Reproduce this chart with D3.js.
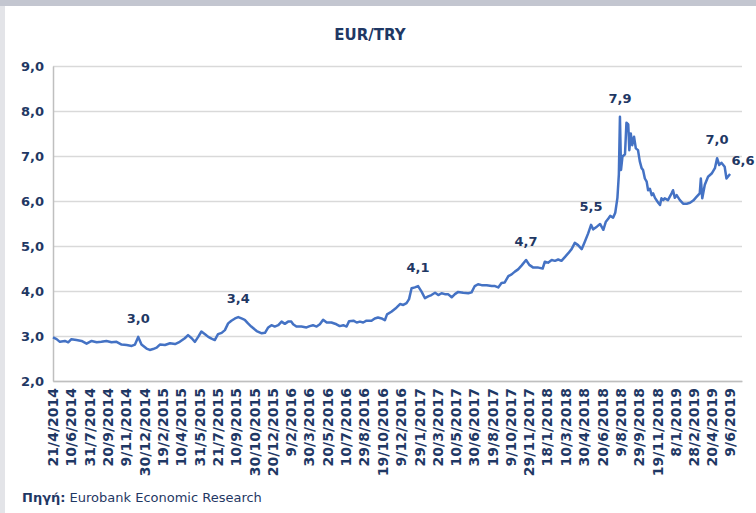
<!DOCTYPE html>
<html>
<head>
<meta charset="utf-8">
<script src="https://cdn.jsdelivr.net/npm/d3@7"></script>
<style>
  body { margin: 0; background: #fff; }
  text { font-family: 'DejaVu Sans', Verdana, sans-serif; }
</style>
</head>
<body>
<script>
// EUR/TRY series, values
var dates = ['2014-04-21','2014-05-01','2014-05-10','2014-05-24','2014-06-02','2014-06-11','2014-06-25','2014-07-09','2014-07-23','2014-08-06',
  '2014-08-20','2014-09-02','2014-09-16','2014-09-30','2014-10-14','2014-10-28','2014-11-11','2014-11-25','2014-12-04','2014-12-13',
  '2014-12-22','2015-01-05','2015-01-14','2015-01-23','2015-02-02','2015-02-11','2015-02-25','2015-03-11','2015-03-25','2015-04-07',
  '2015-04-21','2015-04-30','2015-05-10','2015-05-19','2015-05-28','2015-06-06','2015-06-16','2015-06-25','2015-07-04','2015-07-13',
  '2015-07-22','2015-08-01','2015-08-10','2015-08-19','2015-08-28','2015-09-07','2015-09-16','2015-09-25','2015-10-04','2015-10-13',
  '2015-10-22','2015-11-06','2015-11-20','2015-11-29','2015-12-08','2015-12-17','2015-12-26','2016-01-05','2016-01-14','2016-01-23',
  '2016-02-01','2016-02-10','2016-02-15','2016-02-24','2016-03-09','2016-03-23','2016-04-01','2016-04-10','2016-04-20','2016-04-29',
  '2016-05-08','2016-05-18','2016-05-31','2016-06-14','2016-06-23','2016-07-03','2016-07-12','2016-07-19','2016-07-31','2016-08-09',
  '2016-08-18','2016-08-27','2016-09-05','2016-09-19','2016-09-28','2016-10-07','2016-10-17','2016-10-26','2016-11-01','2016-11-13',
  '2016-11-27','2016-12-07','2016-12-16','2016-12-25','2017-01-01','2017-01-08','2017-01-17','2017-01-26','2017-02-05','2017-02-14',
  '2017-02-23','2017-03-04','2017-03-14','2017-03-23','2017-04-01','2017-04-10','2017-04-19','2017-04-29','2017-05-08','2017-05-17',
  '2017-05-31','2017-06-14','2017-06-23','2017-07-02','2017-07-11','2017-07-21','2017-08-04','2017-08-18','2017-08-27','2017-09-05',
  '2017-09-14','2017-09-23','2017-10-03','2017-10-12','2017-10-21','2017-10-30','2017-11-09','2017-11-21','2017-11-30','2017-12-11',
  '2017-12-25','2018-01-06','2018-01-12','2018-01-21','2018-01-31','2018-02-09','2018-02-18','2018-02-27','2018-03-09','2018-03-18',
  '2018-03-27','2018-04-05','2018-04-14','2018-04-24','2018-05-03','2018-05-12','2018-05-20','2018-05-26','2018-06-05','2018-06-14',
  '2018-06-23','2018-06-30','2018-07-07','2018-07-12','2018-07-20','2018-07-26','2018-08-01','2018-08-05','2018-08-08','2018-08-11',
  '2018-08-15','2018-08-22','2018-08-26','2018-08-31','2018-09-03','2018-09-07','2018-09-11','2018-09-16','2018-09-21','2018-09-27',
  '2018-10-02','2018-10-07','2018-10-11','2018-10-16','2018-10-21','2018-10-25','2018-10-30','2018-11-04','2018-11-08','2018-11-13',
  '2018-11-22','2018-11-27','2018-12-01','2018-12-06','2018-12-10','2018-12-19','2018-12-29','2019-01-02','2019-01-07','2019-01-12',
  '2019-01-21','2019-01-30','2019-02-09','2019-02-18','2019-02-27','2019-03-08','2019-03-17','2019-03-20','2019-03-24','2019-03-31',
  '2019-04-09','2019-04-19','2019-04-28','2019-05-04','2019-05-10','2019-05-16','2019-05-25','2019-05-30','2019-06-04','2019-06-09'];

var rates = [2.97,2.93,2.87,2.89,2.86,2.93,2.91,2.89,2.83,2.89,
  2.86,2.87,2.89,2.86,2.87,2.81,2.80,2.78,2.81,2.98,
  2.81,2.72,2.69,2.71,2.74,2.81,2.80,2.84,2.82,2.87,
  2.95,3.02,2.95,2.87,2.98,3.10,3.04,2.98,2.94,2.91,
  3.04,3.07,3.13,3.28,3.34,3.39,3.42,3.39,3.36,3.28,
  3.21,3.11,3.06,3.07,3.19,3.24,3.21,3.24,3.32,3.27,
  3.32,3.32,3.26,3.21,3.21,3.19,3.22,3.24,3.21,3.26,
  3.36,3.30,3.30,3.26,3.22,3.24,3.21,3.33,3.34,3.30,
  3.32,3.30,3.34,3.34,3.39,3.41,3.39,3.35,3.48,3.54,
  3.63,3.71,3.69,3.73,3.82,4.06,4.08,4.11,3.98,3.84,
  3.88,3.91,3.96,3.91,3.95,3.93,3.93,3.86,3.93,3.98,
  3.96,3.95,3.97,4.11,4.15,4.13,4.13,4.11,4.11,4.08,
  4.18,4.19,4.33,4.37,4.43,4.48,4.57,4.69,4.58,4.52,
  4.52,4.50,4.65,4.63,4.69,4.67,4.70,4.67,4.76,4.84,
  4.93,5.07,5.02,4.93,5.10,5.28,5.47,5.37,5.43,5.49,
  5.36,5.54,5.61,5.67,5.63,5.74,6.07,6.59,7.87,6.69,
  6.99,7.04,7.74,7.70,7.13,7.50,7.24,7.43,7.17,7.13,
  6.88,6.73,6.69,6.50,6.43,6.24,6.27,6.13,6.17,6.07,
  5.96,5.91,6.06,6.02,6.06,6.02,6.17,6.24,6.07,6.13,
  6.02,5.94,5.94,5.96,6.01,6.09,6.17,6.50,6.06,6.36,
  6.54,6.61,6.73,6.95,6.80,6.85,6.76,6.50,6.55,6.60];

var tickLabels = ['21/4/2014','10/6/2014','31/7/2014','20/9/2014','9/11/2014','30/12/2014',
  '19/2/2015','10/4/2015','31/5/2015','21/7/2015','10/9/2015','30/10/2015','20/12/2015',
  '9/2/2016','30/3/2016','20/5/2016','10/7/2016','29/8/2016','19/10/2016','9/12/2016',
  '29/1/2017','20/3/2017','10/5/2017','30/6/2017','19/8/2017','9/10/2017','29/11/2017',
  '18/1/2018','10/3/2018','30/4/2018','20/6/2018','9/8/2018','29/9/2018','19/11/2018',
  '8/1/2019','28/2/2019','20/4/2019','9/6/2019'];

var yTicks = [2, 3, 4, 5, 6, 7, 8, 9];

// labelled points
var annotDates = ['2014-12-13','2015-09-16','2017-01-26','2017-11-21','2018-05-20','2018-08-08','2019-05-04','2019-06-09'];

var parseIso = d3.timeParse('%Y-%m-%d');
var parseTick = d3.timeParse('%d/%m/%Y');
var data = dates.map(function (d, i) { return { date: parseIso(d), value: rates[i] }; });
var tickDates = tickLabels.map(parseTick);

var navy = '#1F3864';
var comma = d3.formatLocale({ decimal: ',', thousands: '.', grouping: [3], currency: ['', '€'] }).format('.1f');

var svg = d3.select('body').append('svg')
    .attr('width', 756)
    .attr('height', 513);

// frame
svg.append('rect').attr('width', 756).attr('height', 513).attr('fill', '#c3c6d0');
svg.append('rect').attr('x', 0).attr('y', 6).attr('width', 5).attr('height', 507).attr('fill', '#e3e4e8');
svg.append('rect').attr('x', 5).attr('y', 6).attr('width', 751).attr('height', 507).attr('fill', '#ffffff');

var plotLeft = 53, plotRight = 742, plotTop = 66, plotBottom = 381;

var x = d3.scaleTime()
    .domain([parseIso('2014-04-21'), parseIso('2019-07-12')])
    .range([plotLeft, plotRight]);
var y = d3.scaleLinear()
    .domain([2, 9])
    .range([plotBottom, plotTop]);

// gridlines
svg.append('g')
    .attr('transform', 'translate(' + plotLeft + ',0)')
    .call(d3.axisLeft(y).tickValues(yTicks).tickSize(-(plotRight - plotLeft)).tickFormat(''))
    .call(function (g) { g.select('.domain').remove(); })
    .selectAll('line')
    .attr('stroke', '#d9d9d9')
    .attr('stroke-width', 1.5);

// y axis
var yAxis = svg.append('g')
    .attr('transform', 'translate(' + plotLeft + ',0)')
    .call(d3.axisLeft(y).tickValues(yTicks).tickSize(0).tickPadding(9).tickFormat(comma));
yAxis.select('.domain').attr('stroke', '#bfbfbf').attr('stroke-width', 1.5);
yAxis.selectAll('text')
    .attr('fill', navy)
    .attr('font-size', '13px')
    .attr('font-weight', 'bold')
    .style('font-family', "'DejaVu Sans', Verdana, sans-serif");

// x axis
var xAxis = svg.append('g')
    .attr('transform', 'translate(0,' + plotBottom + ')')
    .call(d3.axisBottom(x).tickValues(tickDates).tickSize(0).tickFormat(d3.timeFormat('%-d/%-m/%Y')));
xAxis.select('.domain').attr('stroke', '#bfbfbf').attr('stroke-width', 1.5);
xAxis.selectAll('text')
    .attr('fill', navy)
    .attr('font-size', '14px')
    .attr('font-weight', 'bold')
    .style('font-family', "'DejaVu Sans', Verdana, sans-serif")
    .attr('text-anchor', 'end')
    .attr('transform', 'rotate(-90)')
    .attr('x', -7)
    .attr('y', 0)
    .attr('dy', '0.35em');

// line
var line = d3.line()
    .x(function (d) { return x(d.date); })
    .y(function (d) { return y(d.value); });

svg.append('path')
    .datum(data)
    .attr('fill', 'none')
    .attr('stroke', '#4472C4')
    .attr('stroke-width', 2.5)
    .attr('stroke-linejoin', 'round')
    .attr('d', line);

// value labels
var lookup = d3.index(data, function (d) { return d3.timeFormat('%Y-%m-%d')(d.date); });
var lastDate = dates[dates.length - 1];
svg.selectAll('.annot')
    .data(annotDates)
    .enter().append('text')
    .attr('class', 'annot')
    .attr('x', function (d) { return x(parseIso(d)) + (d === lastDate ? 13 : 0); })
    .attr('y', function (d) { return y(lookup.get(d).value) - (d === lastDate ? 9 : 14); })
    .attr('text-anchor', 'middle')
    .attr('fill', navy)
    .attr('font-size', '13px')
    .attr('font-weight', 'bold')
    .text(function (d) { return comma(lookup.get(d).value); });

// title
svg.append('text')
    .attr('x', 370)
    .attr('y', 40)
    .attr('text-anchor', 'middle')
    .attr('fill', navy)
    .attr('font-size', '15px')
    .attr('font-weight', 'bold')
    .text('EUR/TRY');

// source
var src = svg.append('text')
    .attr('x', 22)
    .attr('y', 502)
    .attr('fill', navy)
    .attr('font-size', '13px');
src.append('tspan').attr('font-weight', 'bold').text('Πηγή:');
src.append('tspan').text(' Eurobank Economic Research');
</script>
</body>
</html>
